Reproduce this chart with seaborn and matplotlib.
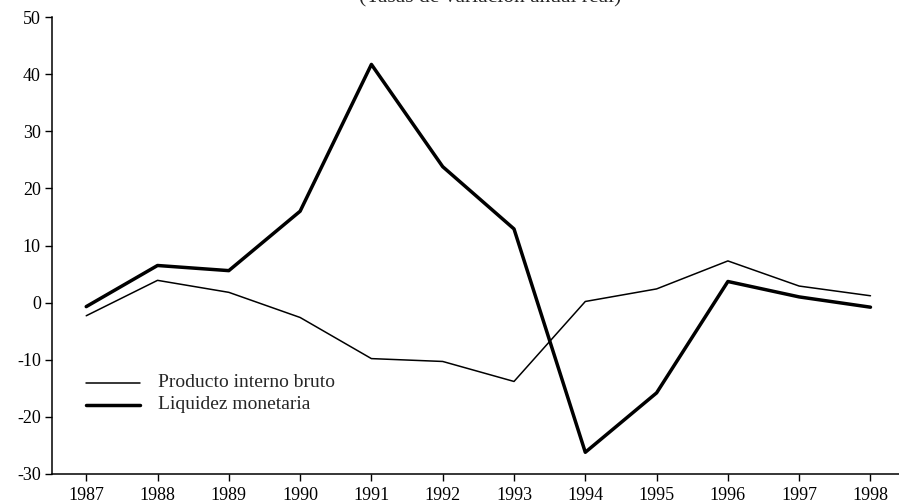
import matplotlib
matplotlib.use("Agg")
import matplotlib.pyplot as plt
import pandas as pd
import seaborn as sns

years = [1987, 1988, 1989, 1990, 1991, 1992, 1993, 1994, 1995, 1996, 1997, 1998]
pib = [-2.3, 3.9, 1.8, -2.6, -9.8, -10.3, -13.8, 0.2, 2.4, 7.3, 2.9, 1.2]
liquidez = [-0.7, 6.5, 5.6, 16.0, 41.7, 23.8, 12.9, -26.2, -15.8, 3.7, 1.0, -0.8]
series_names = ["Producto interno bruto", "Liquidez monetaria"]

sns.set_style("ticks")
plt.rcParams["font.family"] = ["Liberation Serif", "DejaVu Serif"]
plt.rcParams["axes.unicode_minus"] = False

data = pd.DataFrame({"year": years, series_names[0]: pib, series_names[1]: liquidez})
data = data.melt(id_vars="year", var_name="serie", value_name="valor")

fig = plt.figure(figsize=(8.99, 5.04), dpi=100)
ax = fig.add_axes([52 / 899, 30 / 504, 1 - 52 / 899, 1 - 47 / 504])

sns.lineplot(data=data, x="year", y="valor", hue="serie", size="serie",
             palette=["black", "black"], sizes=[1.1, 2.5],
             ax=ax, legend=False)

ax.set_xlim(1986.52, 1998.4)
ax.set_ylim(-30, 50)
ax.set_xticks(years)
ax.set_yticks(range(-30, 51, 10))
ax.set_xlabel("")
ax.set_ylabel("")
ax.tick_params(labelsize=13, length=5, width=1, colors="black", pad=3)
ax.tick_params(axis="x", pad=4)
sns.despine(ax=ax)
for s in ["left", "bottom"]:
    ax.spines[s].set_linewidth(1.1)
    ax.spines[s].set_color("black")

# leyenda dibujada a mano, como en el original
ax.plot([1987.0, 1987.75], [-14.0, -14.0], color="black", lw=1.1)
ax.plot([1987.0, 1987.75], [-17.9, -17.9], color="black", lw=2.5)
ax.text(1988.0, -14.0, series_names[0], va="center", ha="left", fontsize=14)
ax.text(1988.0, -17.9, series_names[1], va="center", ha="left", fontsize=14)

fig.text(490 / 899, 1 + 2 / 504, "(Tasas de variación anual real)",
         ha="center", va="center", fontsize=15.5)

fig.savefig("out.png", dpi=100)
